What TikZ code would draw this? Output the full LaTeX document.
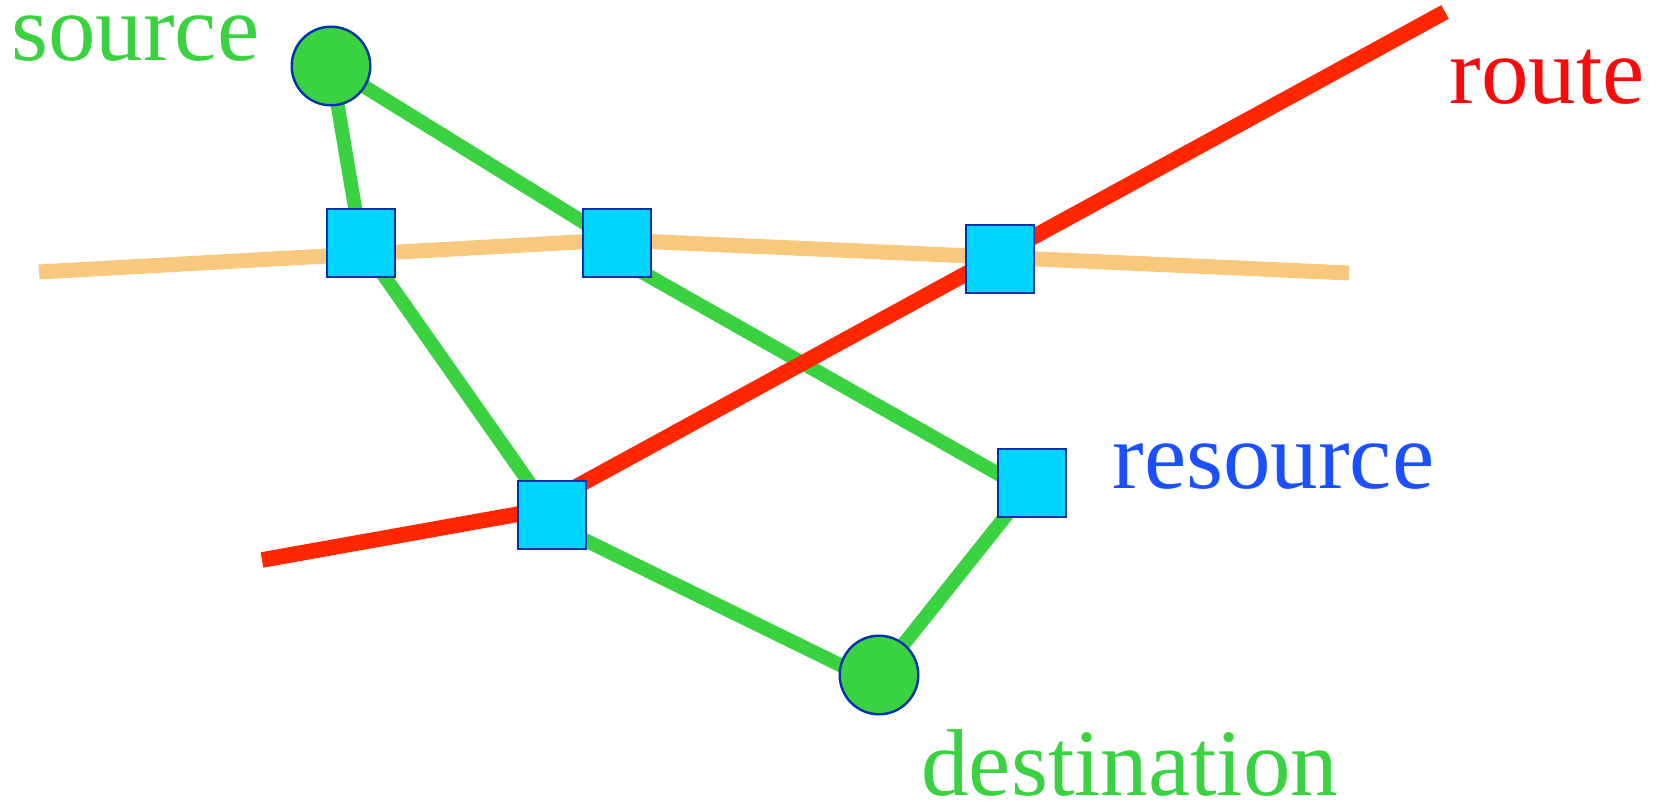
\documentclass[tikz,border=0pt]{standalone}
\usepackage{fontspec}
\setmainfont{Liberation Serif}
\usetikzlibrary{backgrounds}
\definecolor{netgreen}{RGB}{58,210,64}
\definecolor{sqfill}{RGB}{0,213,255}
\definecolor{edgeblue}{RGB}{0,51,170}
\definecolor{roadorange}{RGB}{248,201,125}
\definecolor{routered}{RGB}{255,38,0}
\definecolor{labelred}{RGB}{250,10,10}
\definecolor{labelblue}{RGB}{26,80,255}
\tikzset{
  resbox/.style={rectangle, fill=sqfill, draw=edgeblue, line width=1.4pt, minimum size=34pt, inner sep=0pt},
  endpt/.style={circle, fill=netgreen, draw=edgeblue, line width=1.2pt, minimum size=39.3pt, inner sep=0pt},
  link/.style={draw=netgreen, line width=7pt},
  road/.style={draw=roadorange, line width=7.5pt},
  routeline/.style={draw=routered, line width=7.8pt},
  lbl/.style={anchor=base west, inner sep=0pt, font=\fontsize{47.5pt}{50pt}\selectfont}
}
\begin{document}
\begin{tikzpicture}[x=0.5pt, y=-0.5pt]
\useasboundingbox (0,0) rectangle (1664,801);
% nodes
\node[endpt] (src) at (331,66) {};
\node[endpt] (dst) at (879,675) {};
\node[resbox] (A) at (361,243) {};
\node[resbox] (B) at (617,243) {};
\node[resbox] (C) at (1000,259) {};
\node[resbox] (D) at (552,515) {};
\node[resbox] (E) at (1032,483) {};
% free ends
\coordinate (o1) at (39,272);
\coordinate (opk) at (615,240);
\coordinate (o2) at (1349,273);
\coordinate (r1) at (262,560);
\coordinate (rb) at (530,512);
\coordinate (r2) at (1445,12);
\begin{scope}[on background layer]
  \draw[road] (o1) -- (opk) -- (o2);
  \draw[link] (src.center) -- (A.center) -- (D.center);
  \draw[link] ([yshift=-4.5pt]D.center) -- ([yshift=-4.5pt]dst.center);
  \draw[link] (dst.center) -- (E.center);
  \draw[link] (src.center) -- (B.center);
  \draw[link] ([yshift=-7.5pt]B.center) -- ([yshift=-5pt]E.center);
  \draw[routeline] (r1) -- (rb) -- (r2);
\end{scope}
% labels
\node[lbl, text=netgreen] (tsrc) at (11,61) {source};
\node[lbl, text=labelred] (troute) at (1449,104) {route};
\node[lbl, text=labelblue] (tres) at (1112,488) {resource};
\node[lbl, text=netgreen] (tdst) at (921,795) {destination};
\end{tikzpicture}
\end{document}
